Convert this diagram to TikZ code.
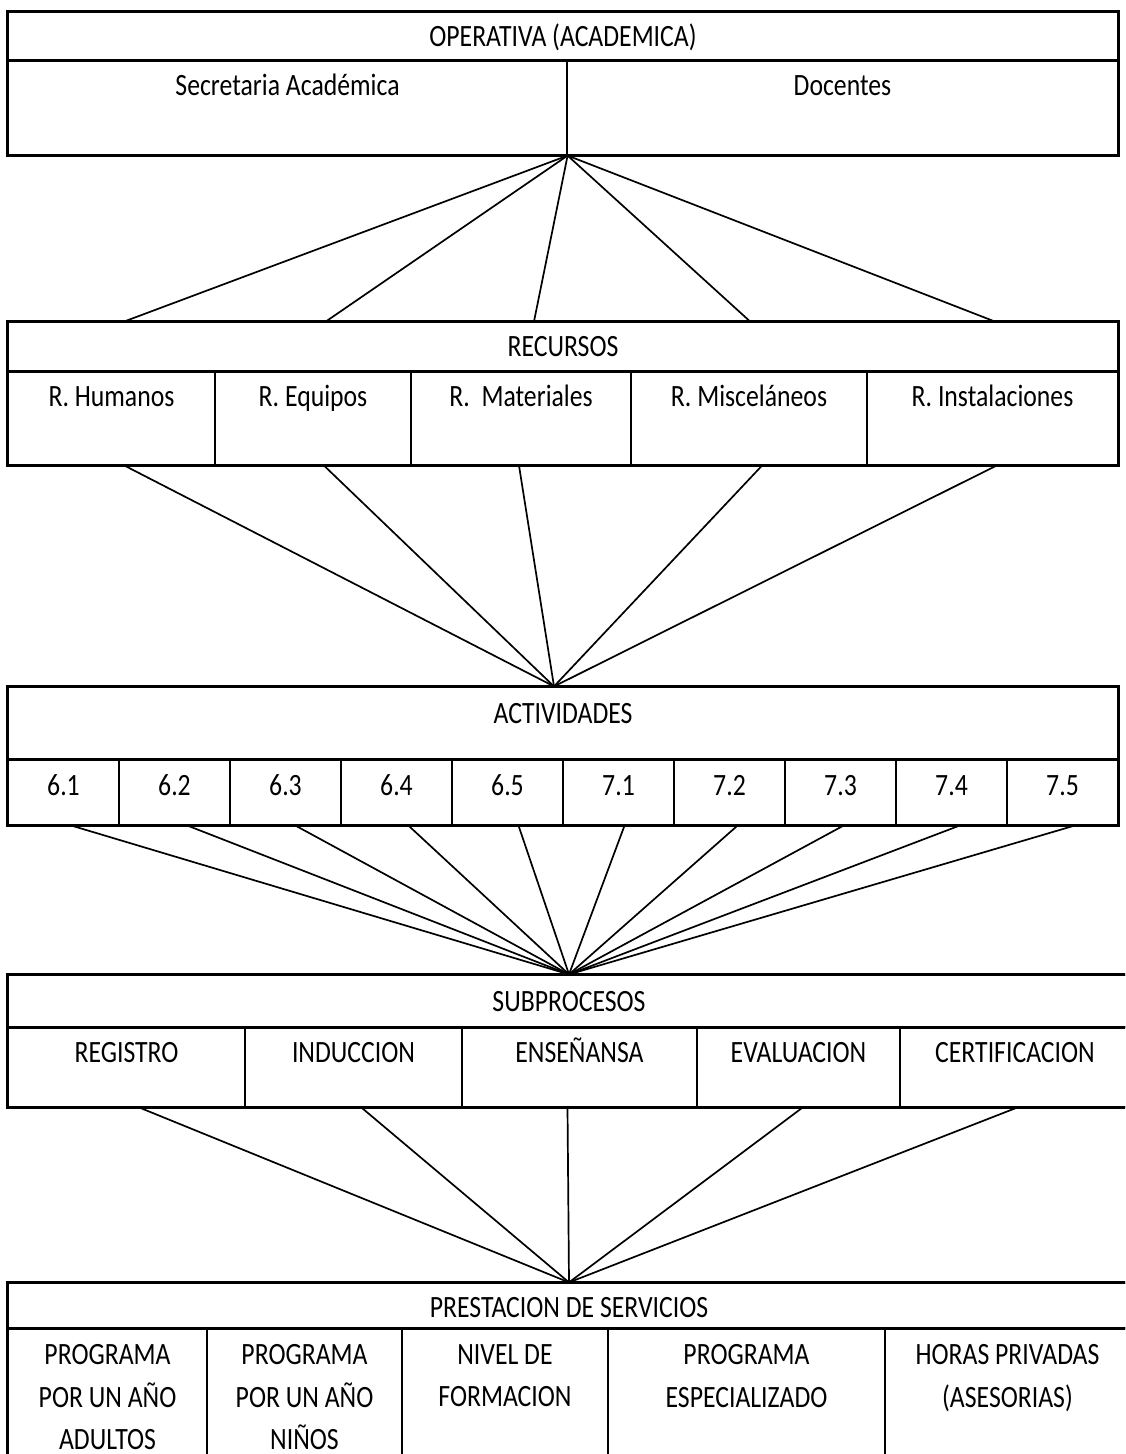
\documentclass[tikz,border=0pt]{standalone}
\usepackage{fontspec}
\setmainfont{Carlito}[FakeStretch=0.83]
\usepackage{tikz}
\usetikzlibrary{fit,calc}

\begin{document}
\begin{tikzpicture}[x=0.5pt, y=-0.5pt,
        caja/.style={draw, line width=0.6pt, inner sep=0pt},
        borde/.style={line width=1.3pt},
        rayo/.style={line width=0.85pt},
        txt/.style={inner sep=0pt, anchor=base, font=\fontsize{15.5}{21.3}\selectfont},
        txtm/.style={inner sep=0pt, anchor=north, align=center, font=\fontsize{15.5}{21.3}\selectfont}]
        \useasboundingbox (0,0) rectangle (1125,1454);
        \clip (0,0) rectangle (1125,1454);
        % Operativa (academica)
        \node[caja, fit={(8,12) (1118,60)}] (ope) {};
        \node[caja, fit={(8,60) (567,155)}] (sec) {};
        \node[caja, fit={(567,60) (1118,155)}] (doc) {};
        \draw[borde] (ope.north west) rectangle (doc.south east) (ope.south west) -- (ope.south east);
        \node[txt] (t-ope) at (ope.center |- 0,47) {OPERATIVA (ACADEMICA)};
        \node[txt] (t-sec) at (sec.center |- 0,96) {Secretaria Académica};
        \node[txt] (t-doc) at (doc.center |- 0,96) {Docentes};
        % Recursos
        \node[caja, fit={(8,322) (1118,371)}] (rec) {};
        \foreach \n/\a/\b/\t in {hum/8/215/R. Humanos, equ/215/411/R. Equipos,
                mat/411/631/R.~~Materiales, mis/631/867/R. Misceláneos, ins/867/1118/R. Instalaciones} {
                \node[caja, fit={(\a,371) (\b,465)}] (\n) {};
                \node[txt] (t-\n) at (\n.center |- 0,407) {\t};
            }
        \draw[borde] (rec.north west) rectangle (ins.south east) (rec.south west) -- (rec.south east);
        \node[txt] (t-rec) at (rec.center |- 0,357) {RECURSOS};
        % Actividades
        \node[caja, fit={(8,687) (1118,759)}] (act) {};
        \foreach \t [count=\i from 0] in {6.1,6.2,6.3,6.4,6.5,7.1,7.2,7.3,7.4,7.5} {
                \node[caja, fit={(8+111*\i,759) (119+111*\i,825)}] (a\i) {};
                \node[txt] (t-a\i) at (a\i.center |- 0,795) {\t};
            }
        \draw[borde] (act.north west) rectangle (a9.south east) (act.south west) -- (act.south east);
        \node[txt] (t-act) at (act.center |- 0,723) {ACTIVIDADES};
        \coordinate (hubA) at ($(act.north)+(-9,0)$);
        % Subprocesos
        \node[caja, fit={(8,975) (1130,1027)}] (sub) {};
        \foreach \n/\a/\b/\t in {reg/8/245/REGISTRO, ind/245/462/INDUCCION, ens/462/697/ENSEÑANSA,
                eva/697/900/EVALUACION, cer/900/1130/CERTIFICACION} {
                \node[caja, fit={(\a,1027) (\b,1107)}] (\n) {};
                \node[txt] (t-\n) at (\n.center |- 0,1062) {\t};
            }
        \draw[borde] (sub.north west) rectangle (cer.south east) (sub.south west) -- (sub.south east);
        \node[txt] (t-sub) at (sub.center |- 0,1011) {SUBPROCESOS};
        % Prestacion de servicios
        \node[caja, fit={(8,1283) (1130,1328)}] (pre) {};
        \foreach \n/\a/\b in {pad/8/207, pni/207/402, niv/402/608, esp/608/885, hor/885/1130}
            \node[caja, fit={(\a,1328) (\b,1470)}] (\n) {};
        \draw[borde] (pre.north west) rectangle (hor.south east) (pre.south west) -- (pre.south east);
        \node[txt] (t-pre) at (pre.center |- 0,1317) {PRESTACION DE SERVICIOS};
        \node[txtm] (t-pad) at (pad.center |- 0,1344) {PROGRAMA\\POR UN AÑO\\ADULTOS};
        \node[txtm] (t-pni) at (pni.center |- 0,1344) {PROGRAMA\\POR UN AÑO\\NIÑOS};
        \node[txtm] (t-niv) at (niv.center |- 0,1344) {NIVEL DE\\FORMACION};
        \node[txtm] (t-esp) at (esp.center |- 0,1344) {PROGRAMA\\ESPECIALIZADO};
        \node[txtm] (t-hor) at (hor.center |- 0,1344) {HORAS PRIVADAS\\(ASESORIAS)};
        % Ramas
        \foreach \n/\d in {hum/13, equ/13, mat/13, mis/1, ins/2}
            \draw[rayo] (sec.south east) -- ($(\n.north |- rec.north)+(\d,0)$);
        \foreach \n/\d in {hum/13, equ/11, mat/-2, mis/13, ins/4}
            \draw[rayo] ($(\n.south)+(\d,0)$) -- (hubA);
        \foreach \i/\d in {0/8, 1/13, 2/10, 3/12, 4/11, 5/6, 6/8, 7/3, 8/8, 9/12}
            \draw[rayo] ($(a\i.south)+(\d,0)$) -- (sub.north);
        \foreach \n/\d in {reg/13, ind/8, ens/-12, eva/4, cer/2}
            \draw[rayo] ($(\n.south)+(\d,0)$) -- (pre.north);
    \end{tikzpicture}
\end{document}
